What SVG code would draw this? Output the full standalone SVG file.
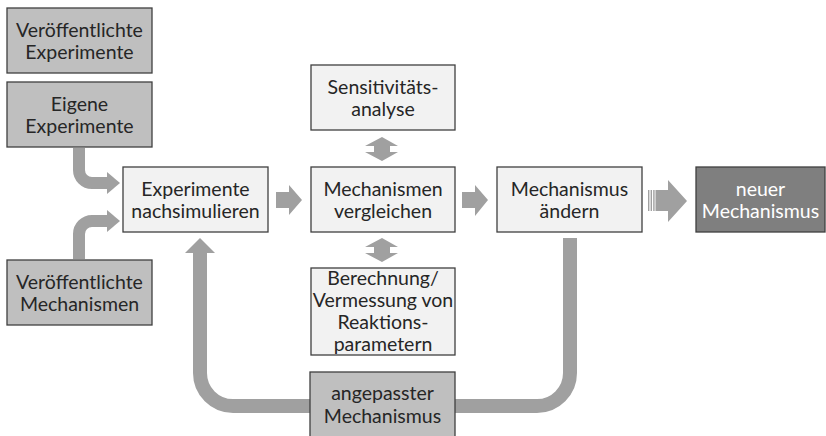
<svg xmlns="http://www.w3.org/2000/svg" width="826" height="436" viewBox="0 0 826 436">
<style>
.box{stroke:#3f3f3f;stroke-width:1.3}
.light{fill:#f2f2f2}
.mid{fill:#bfbfbf}
.dark{fill:#7f7f7f}
text{font-family:Lato,"Liberation Sans",Arial,sans-serif;font-size:19.5px;fill:#262626;text-anchor:middle}
.white{fill:#ffffff}
.arr{fill:#a0a0a0}
.band{fill:none;stroke:#a0a0a0}
</style>
<rect width="826" height="436" fill="#ffffff"/>
<g id="connectors">
  <!-- Eigene -> nachsimulieren -->
  <path class="band" stroke-width="12" d="M79,148 V170 A13,13 0 0 0 92,183 H108"/>
  <polygon class="arr" points="107,172 120,183 107,194"/>
  <!-- Veröffentlichte Mechanismen -> nachsimulieren -->
  <path class="band" stroke-width="12" d="M79,259 V234 A13,13 0 0 1 92,221 H108"/>
  <polygon class="arr" points="107,210 120,221 107,232"/>
  <!-- nachsimulieren -> vergleichen -->
  <polygon class="arr" points="276,192 289,192 289,185 302,200 289,215 289,208 276,208"/>
  <!-- vergleichen -> ändern -->
  <polygon class="arr" points="462,192 475,192 475,185 488,200 475,216 475,208 462,208"/>
  <!-- ändern -> neuer Mechanismus (striped) -->
  <rect class="arr" x="648" y="190" width="1.4" height="21"/>
  <rect class="arr" x="650.6" y="190" width="1.4" height="21"/>
  <rect class="arr" x="653.2" y="190" width="1.4" height="21"/>
  <polygon class="arr" points="655.5,190 668,190 668,180 687,201 668,222 668,211 655.5,211"/>
  <!-- Sensitivität <-> vergleichen -->
  <polygon class="arr" points="382,137 398,146 390,146 390,152 398,152 382,161 365,152 374,152 374,146 365,146"/>
  <!-- vergleichen <-> Berechnung -->
  <polygon class="arr" points="382,238 398,247 390,247 390,253 398,253 382,262 365,253 374,253 374,247 365,247"/>
  <!-- loop: ändern -> angepasster -> nachsimulieren -->
  <path class="band" stroke-width="14" d="M570,238 V373 A33,33 0 0 1 537,406 H233 A33,33 0 0 1 200,373 V252"/>
  <polygon class="arr" points="185,253 200,238 215,253"/>
</g>
<g id="n-veroeff-exp">
  <rect class="box mid" x="7" y="8" width="145" height="65"/>
  <text x="79.5" y="36.5">Veröffentlichte</text>
  <text x="79.5" y="58.5">Experimente</text>
</g>
<g id="n-eigene-exp">
  <rect class="box mid" x="7" y="82" width="145" height="65"/>
  <text x="79.5" y="110.5">Eigene</text>
  <text x="79.5" y="132.5">Experimente</text>
</g>
<g id="n-veroeff-mech">
  <rect class="box mid" x="7" y="260" width="145" height="65"/>
  <text x="79.5" y="288.5">Veröffentlichte</text>
  <text x="79.5" y="310.5">Mechanismen</text>
</g>
<g id="n-nachsim">
  <rect class="box light" x="123" y="167" width="145" height="65"/>
  <text x="195.5" y="195.5">Experimente</text>
  <text x="195.5" y="217.5">nachsimulieren</text>
</g>
<g id="n-sensitiv">
  <rect class="box light" x="311" y="65" width="144" height="65"/>
  <text x="383" y="93.5">Sensitivitäts-</text>
  <text x="383" y="115.5">analyse</text>
</g>
<g id="n-vergleichen">
  <rect class="box light" x="311" y="167" width="144" height="65"/>
  <text x="383" y="195.5">Mechanismen</text>
  <text x="383" y="217.5">vergleichen</text>
</g>
<g id="n-berechnung">
  <rect class="box light" x="311" y="268" width="144" height="87"/>
  <text x="383" y="285">Berechnung/</text>
  <text x="383" y="307">Vermessung von</text>
  <text x="383" y="329">Reaktions-</text>
  <text x="383" y="351">parametern</text>
</g>
<g id="n-aendern">
  <rect class="box light" x="497" y="167" width="145" height="65"/>
  <text x="569.5" y="195.5">Mechanismus</text>
  <text x="569.5" y="217.5">ändern</text>
</g>
<g id="n-neuer">
  <rect class="box dark" x="696" y="167" width="129" height="65"/>
  <text class="white" x="760.5" y="195.5">neuer</text>
  <text class="white" x="760.5" y="217.5">Mechanismus</text>
</g>
<g id="n-angepasst">
  <rect class="box mid" x="310" y="372" width="145" height="66"/>
  <text x="382.5" y="400">angepasster</text>
  <text x="382.5" y="423">Mechanismus</text>
</g>
</svg>
